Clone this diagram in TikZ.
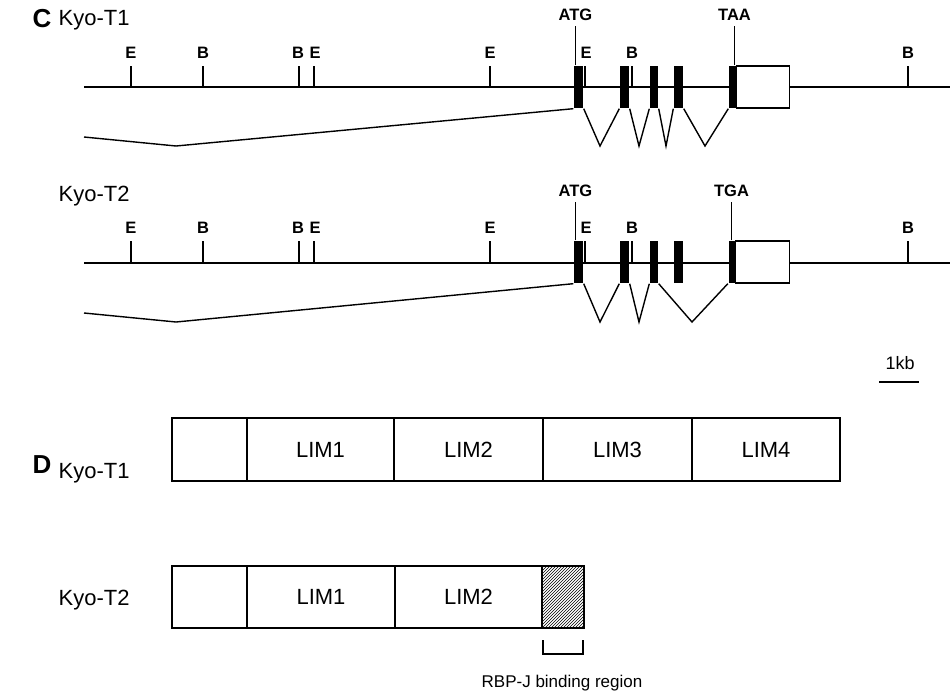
\documentclass[tikz,border=0pt]{standalone}
\usepackage{fontspec}
\setmainfont{Liberation Sans}
\usetikzlibrary{positioning,patterns}

\begin{document}
\begin{tikzpicture}[x=1pt,y=-1pt,line width=1.4pt,
  site/.style={font=\fontsize{16.5}{16.5}\selectfont\bfseries,inner sep=0pt},
  lbl/.style={font=\fontsize{22}{22}\selectfont,inner sep=0pt},
  panel/.style={font=\fontsize{26}{26}\selectfont\bfseries,inner sep=0pt},
  exon/.style={fill=black,inner sep=0pt,minimum width=9pt,minimum height=42pt},
  utr/.style={draw,fill=white,inner sep=0pt,outer sep=0pt,minimum width=53pt,minimum height=42pt},
  dom/.style={draw,inner sep=0pt,outer sep=0pt,minimum height=63pt,font=\fontsize{22}{22}\selectfont}]
\useasboundingbox (0,0) rectangle (950,696);

% C: genomic maps
\node[panel] (C) at (42,19) {C};
\node[lbl,anchor=base west] (gene1) at (58,25) {Kyo-T1};
\draw (84,87) -- (950,87);
\draw (131,87) -- (131,66) node[site,above=7pt] (ea1) {E}; \draw (203,87) -- (203,66) node[site,above=7pt] (ba1) {B};
\draw (299,87) -- (299,66) node[site,above=7pt,xshift=-1pt] (bb1) {B}; \draw (314,87) -- (314,66) node[site,above=7pt,xshift=1pt] (eb1) {E};
\draw (490,87) -- (490,66) node[site,above=7pt] (ec1) {E}; \draw (585,87) -- (585,66) node[site,above=7pt,xshift=1pt] (ed1) {E};
\draw (632,87) -- (632,66) node[site,above=7pt] (bc1) {B}; \draw (908,87) -- (908,66) node[site,above=7pt] (bd1) {B};
\node[exon] (x1) at (578.5,87) {}; \node[exon] (x2) at (624.5,87) {};
\node[exon,minimum width=8pt] (x3) at (654,87) {}; \node[exon] (x4) at (678.5,87) {};
\node[exon,minimum width=7pt] (x5) at (732.5,87) {};
\node[utr,right=0pt of x5] (u1) {};
\draw ([xshift=-3pt]x1.north) -- ++(0,-39) node[site,above=5pt] (atg1) {ATG};
\draw ([xshift=2pt]x5.north) -- ++(0,-39) node[site,above=5pt] (stop1) {TAA};
\coordinate (s1) at (84,137);
\draw (s1) -- (176,146) -- (x1.south west);
\draw (x1.south east) -- (600,146) -- (x2.south west);
\draw (x2.south east) -- (639,146) -- (x3.south west);
\draw (x3.south east) -- (666,146) -- (x4.south west);
\draw (x4.south east) -- (705,146) -- (x5.south west);

\node[lbl,anchor=base west] (gene2) at (58,201) {Kyo-T2};
\draw (84,263) -- (950,263);
\draw (131,263) -- (131,241) node[site,above=7pt] (ea2) {E}; \draw (203,263) -- (203,241) node[site,above=7pt] (ba2) {B};
\draw (299,263) -- (299,241) node[site,above=7pt,xshift=-1pt] (bb2) {B}; \draw (314,263) -- (314,241) node[site,above=7pt,xshift=1pt] (eb2) {E};
\draw (490,263) -- (490,241) node[site,above=7pt] (ec2) {E}; \draw (585,263) -- (585,241) node[site,above=7pt,xshift=1pt] (ed2) {E};
\draw (632,263) -- (632,241) node[site,above=7pt] (bc2) {B}; \draw (908,263) -- (908,241) node[site,above=7pt] (bd2) {B};
\node[exon] (y1) at (578.5,262) {}; \node[exon] (y2) at (624.5,262) {};
\node[exon,minimum width=8pt] (y3) at (654,262) {}; \node[exon] (y4) at (678.5,262) {};
\node[exon,minimum width=6pt] (y5) at (731.5,262) {};
\node[utr,minimum width=54pt,right=0pt of y5] (u2) {};
\draw ([xshift=-3pt]y1.north) -- ++(0,-38) node[site,above=5pt] (atg2) {ATG};
\draw (y5.north) -- ++(0,-38) node[site,above=5pt] (stop2) {TGA};
\coordinate (s2) at (84,313);
\draw (s2) -- (176,322) -- (y1.south west);
\draw (y1.south east) -- (600,322) -- (y2.south west);
\draw (y2.south east) -- (639,322) -- (y3.south west);
\draw (y3.south east) -- (692,322) -- (y5.south west);

\coordinate (kbl) at (879,382); \coordinate (kbr) at (919,382);
\draw (kbl) -- (kbr);
\node[lbl,font=\fontsize{18}{18}\selectfont,anchor=base] (kb) at (900,369) {1kb};

% D: protein domains
\node[panel] (D) at (42,465) {D};
\node[lbl,anchor=base west] (prot1) at (58,478) {Kyo-T1};
\node[dom,minimum width=75pt,anchor=west] (p0) at (172,449.5) {};
\node[dom,minimum width=147pt,right=0pt of p0] (p1) {LIM1};
\node[dom,minimum width=149pt,right=0pt of p1] (p2) {LIM2};
\node[dom,minimum width=149pt,right=0pt of p2] (p3) {LIM3};
\node[dom,minimum width=148pt,right=0pt of p3] (p4) {LIM4};

\node[lbl,anchor=base west] (prot2) at (58,605) {Kyo-T2};
\node[dom,minimum height=62pt,minimum width=75pt,anchor=west] (q0) at (172,597) {};
\node[dom,minimum height=62pt,minimum width=148pt,right=0pt of q0] (q1) {LIM1};
\node[dom,minimum height=62pt,minimum width=147pt,right=0pt of q1] (q2) {LIM2};
\node[dom,minimum height=62pt,minimum width=42pt,right=0pt of q2,pattern=north east lines] (q3) {};
\draw ([xshift=1pt,yshift=-12pt]q3.south west) -- ++(0,14) -| ([xshift=-1pt,yshift=-12pt]q3.south east);
\node[lbl,font=\fontsize{17}{17}\selectfont,anchor=base] (rbp) at (562,687) {RBP-J binding region};
\end{tikzpicture}
\end{document}
